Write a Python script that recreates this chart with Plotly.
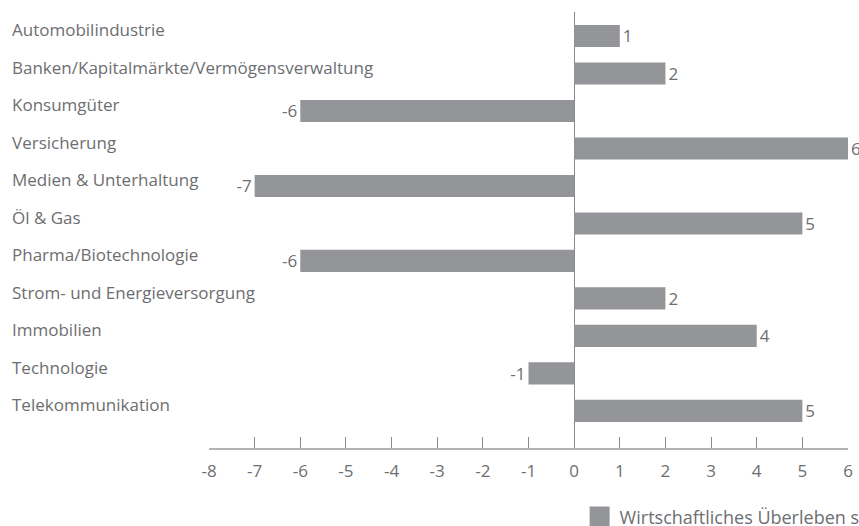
import plotly.graph_objects as go

# Branchen und Saldo (Prozentpunkte)
branchen = [
    "Automobilindustrie",
    "Banken/Kapitalmärkte/Vermögensverwaltung",
    "Konsumgüter",
    "Versicherung",
    "Medien & Unterhaltung",
    "Öl & Gas",
    "Pharma/Biotechnologie",
    "Strom- und Energieversorgung",
    "Immobilien",
    "Technologie",
    "Telekommunikation",
]
werte = [1, 2, -6, 6, -7, 5, -6, 2, 4, -1, 5]
serie = "Wirtschaftliches Überleben sichern"
x_ticks = list(range(-8, 7))

BAR = "#939598"
TXT = "#6d6e71"
FONT = "Open Sans"
FS = 17

fig = go.Figure()

fig.add_trace(go.Bar(
    y=branchen,
    x=werte,
    orientation="h",
    marker=dict(color=BAR, line=dict(width=0)),
    width=0.59,
    text=[str(v) for v in werte],
    textposition="outside",
    constraintext="none",
    textfont=dict(family=FONT, size=FS, color=TXT),
    cliponaxis=False,
    showlegend=False,
))

# Legendeneintrag mit quadratischem Symbol
fig.add_trace(go.Scatter(
    x=[None], y=[None],
    mode="markers",
    marker=dict(symbol="square", size=16, color=BAR,
                line=dict(color=BAR, width=4)),
    name=serie,
    showlegend=True,
))

# Branchenbezeichnungen linksbündig am Rand
for b in branchen:
    fig.add_annotation(
        x=-0.3114, xref="paper", xanchor="left",
        y=b, yref="y", yanchor="middle", yshift=6,
        text=b, showarrow=False,
        font=dict(family=FONT, size=FS, color=TXT),
    )

fig.update_layout(
    width=859, height=526,
    margin=dict(l=209, r=11, t=12, b=78, autoexpand=False),
    paper_bgcolor="white", plot_bgcolor="white",
    font=dict(family=FONT, size=FS, color=TXT),
    bargap=0.4,
    legend=dict(
        orientation="h",
        x=0.58, xanchor="left",
        y=-0.158, yanchor="middle",
        font=dict(family=FONT, size=18, color=TXT),
        bgcolor="rgba(0,0,0,0)",
    ),
    xaxis=dict(
        range=[-8, 6],
        tickvals=x_ticks,
        ticktext=[str(t) for t in x_ticks],
        showgrid=False,
        zeroline=True, zerolinecolor="#8a8a8a", zerolinewidth=1,
        showline=True, linecolor="#b3b3b3", linewidth=2,
        ticks="inside", ticklen=11, tickcolor="#8a8a8a", tickwidth=1,
        ticklabelstandoff=7,
        tickfont=dict(family=FONT, size=FS, color=TXT),
    ),
    yaxis=dict(
        type="category",
        categoryorder="array", categoryarray=branchen,
        range=[10.99, -0.64],
        showticklabels=False, showgrid=False, zeroline=False,
        showline=False, ticks="",
    ),
)

fig.write_html("out.html")
